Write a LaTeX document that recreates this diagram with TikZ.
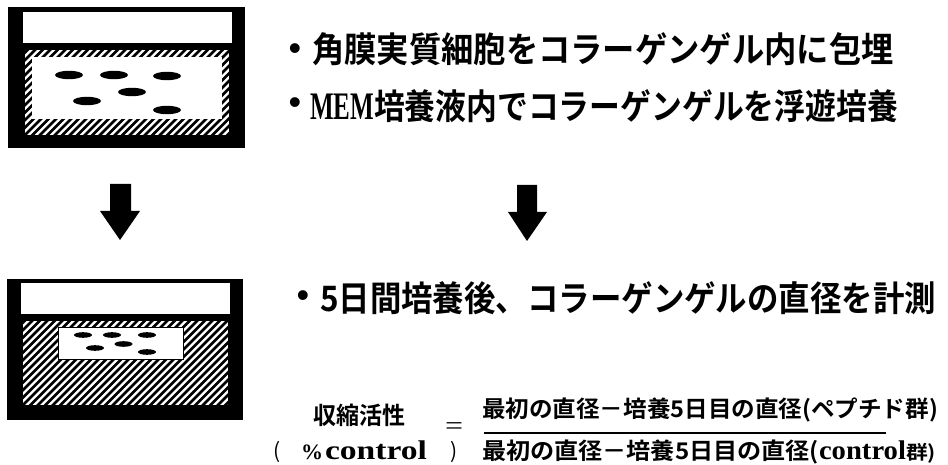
\documentclass[tikz,border=0pt]{standalone}
\usepackage{fontspec}
\usepackage{graphicx}
\newfontfamily\jp{Noto Sans CJK JP}[BoldFont={Noto Sans CJK JP Bold}]
\newfontfamily\lat{Liberation Serif}
\newfontfamily\lsans{Liberation Sans}
% stretch or squeeze a text horizontally to a given width, keeping its height
\newcommand{\fitw}[2]{\resizebox{#1}{\height}{#2}}
\begin{document}
\begin{tikzpicture}[x=1pt,y=-1pt,
  txt/.style={inner sep=0pt, outer sep=0pt},
  big/.style={font=\jp\bfseries\fontsize{35}{38}\selectfont},
  dot/.style={font=\lsans\fontsize{36}{38}\selectfont},
  mid/.style={font=\jp\bfseries\fontsize{23}{25}\selectfont},
  hatchline/.style={line width=2.6pt},
  cell/.style={fill=black},
  blockarrow/.style={fill=black},
]
\useasboundingbox (0,0) rectangle (948,465);
\fill[white] (0,0) rectangle (948,465);

% ---------- dish before culture ----------
\fill (8,7) rectangle (245,148);
\fill[white] (23,12) rectangle (232,43);
\begin{scope}
  \clip (25,50) rectangle (229,135);
  \fill[white] (25,50) rectangle (229,135);
  \foreach \i in {0,...,41} \draw[hatchline] ({-70+\i*7.5},140) -- ++(95,-95);
\end{scope}
\fill[white] (32,57) rectangle (222,119);
\foreach \cx/\cy in {69/75, 114/75, 167/76, 132/92, 87/101, 167/110}
  \fill[cell] (\cx,\cy) ellipse [x radius=14, y radius=4.2];

% ---------- dish after five days ----------
\fill (7,279) rectangle (243,420);
\fill[white] (21,283) rectangle (230,314);
\begin{scope}
  \clip (23,321) rectangle (228,405);
  \fill[white] (23,321) rectangle (228,405);
  \foreach \i in {0,...,43} \draw[hatchline] ({-72+\i*7.5},410) -- ++(95,-95);
\end{scope}
\fill[white] (58,327) rectangle (183,359);
\draw[line width=0.8pt] (58,327) rectangle (183,359);
\foreach \cx/\cy in {83/335, 112/335, 147/335, 123.5/344, 95/348, 147/352}
  \fill[cell] (\cx,\cy) ellipse [x radius=9, y radius=2.8];

% ---------- block arrows ----------
\fill[blockarrow] (110,184) -- (131,184) -- (131,211) -- (140,211) -- (120,240)
  -- (100,211) -- (110,211) -- cycle;
\fill[blockarrow] (517,185) -- (537,185) -- (537,212) -- (547,212) -- (527,241)
  -- (508,212) -- (517,212) -- cycle;

% ---------- steps ----------
\node[txt, dot] (b1) at (295,52) {•};
\node[txt, big, anchor=west] (l1) at (312,49)
  {\fitw{582pt}{角膜実質細胞をコラーゲンゲル内に包埋}};
\node[txt, dot] (b2) at (295,106) {•};
\node[txt, big, anchor=west] (l2) at (310,106)
  {\fitw{64pt}{\lat\bfseries\fontsize{39}{40}\selectfont MEM}\fitw{524pt}{培養液内でコラーゲンゲルを浮遊培養}};
\node[txt, dot] (b3) at (303,299) {•};
\node[txt, big, anchor=west] (l3) at (320,298)
  {\fitw{616pt}{5日間培養後、コラーゲンゲルの直径を計測}};

% ---------- formula ----------
\node[txt, font=\jp\bfseries\fontsize{24}{26}\selectfont] (ka) at (359,415)
  {\fitw{92pt}{収縮活性}};
\node[txt, font=\jp\fontsize{21}{23}\selectfont] (lp) at (277,452) {(};
\node[txt, font=\lat\bfseries\fontsize{22}{24}\selectfont] (pc) at (312,452) {\%};
\node[txt, font=\lat\bfseries\fontsize{27}{29}\selectfont, anchor=west] (ctl) at (325,450)
  {\fitw{102pt}{control}};
\node[txt, font=\jp\fontsize{21}{23}\selectfont] (rp) at (454,452) {)};
\node[txt, font=\lat\fontsize{26}{28}\selectfont] (eq) at (454,429) {\fitw{18pt}{=}};

\node[txt, mid, anchor=west] (num) at (482,410)
  {\fitw{456pt}{最初の直径－培養5日目の直径(ペプチド群)}};
\node[txt, mid, anchor=west] (den) at (482,452)
  {\fitw{337pt}{最初の直径－培養5日目の直径(}%
   \fitw{87pt}{\lat\bfseries\fontsize{27}{29}\selectfont control}%
   \fitw{30pt}{\fontsize{19}{21}\selectfont 群)}};
\coordinate (fl) at (484,433);
\coordinate (fr) at (886,433);
\draw[line width=1.2pt] (fl) -- (fr);
\end{tikzpicture}
\end{document}
